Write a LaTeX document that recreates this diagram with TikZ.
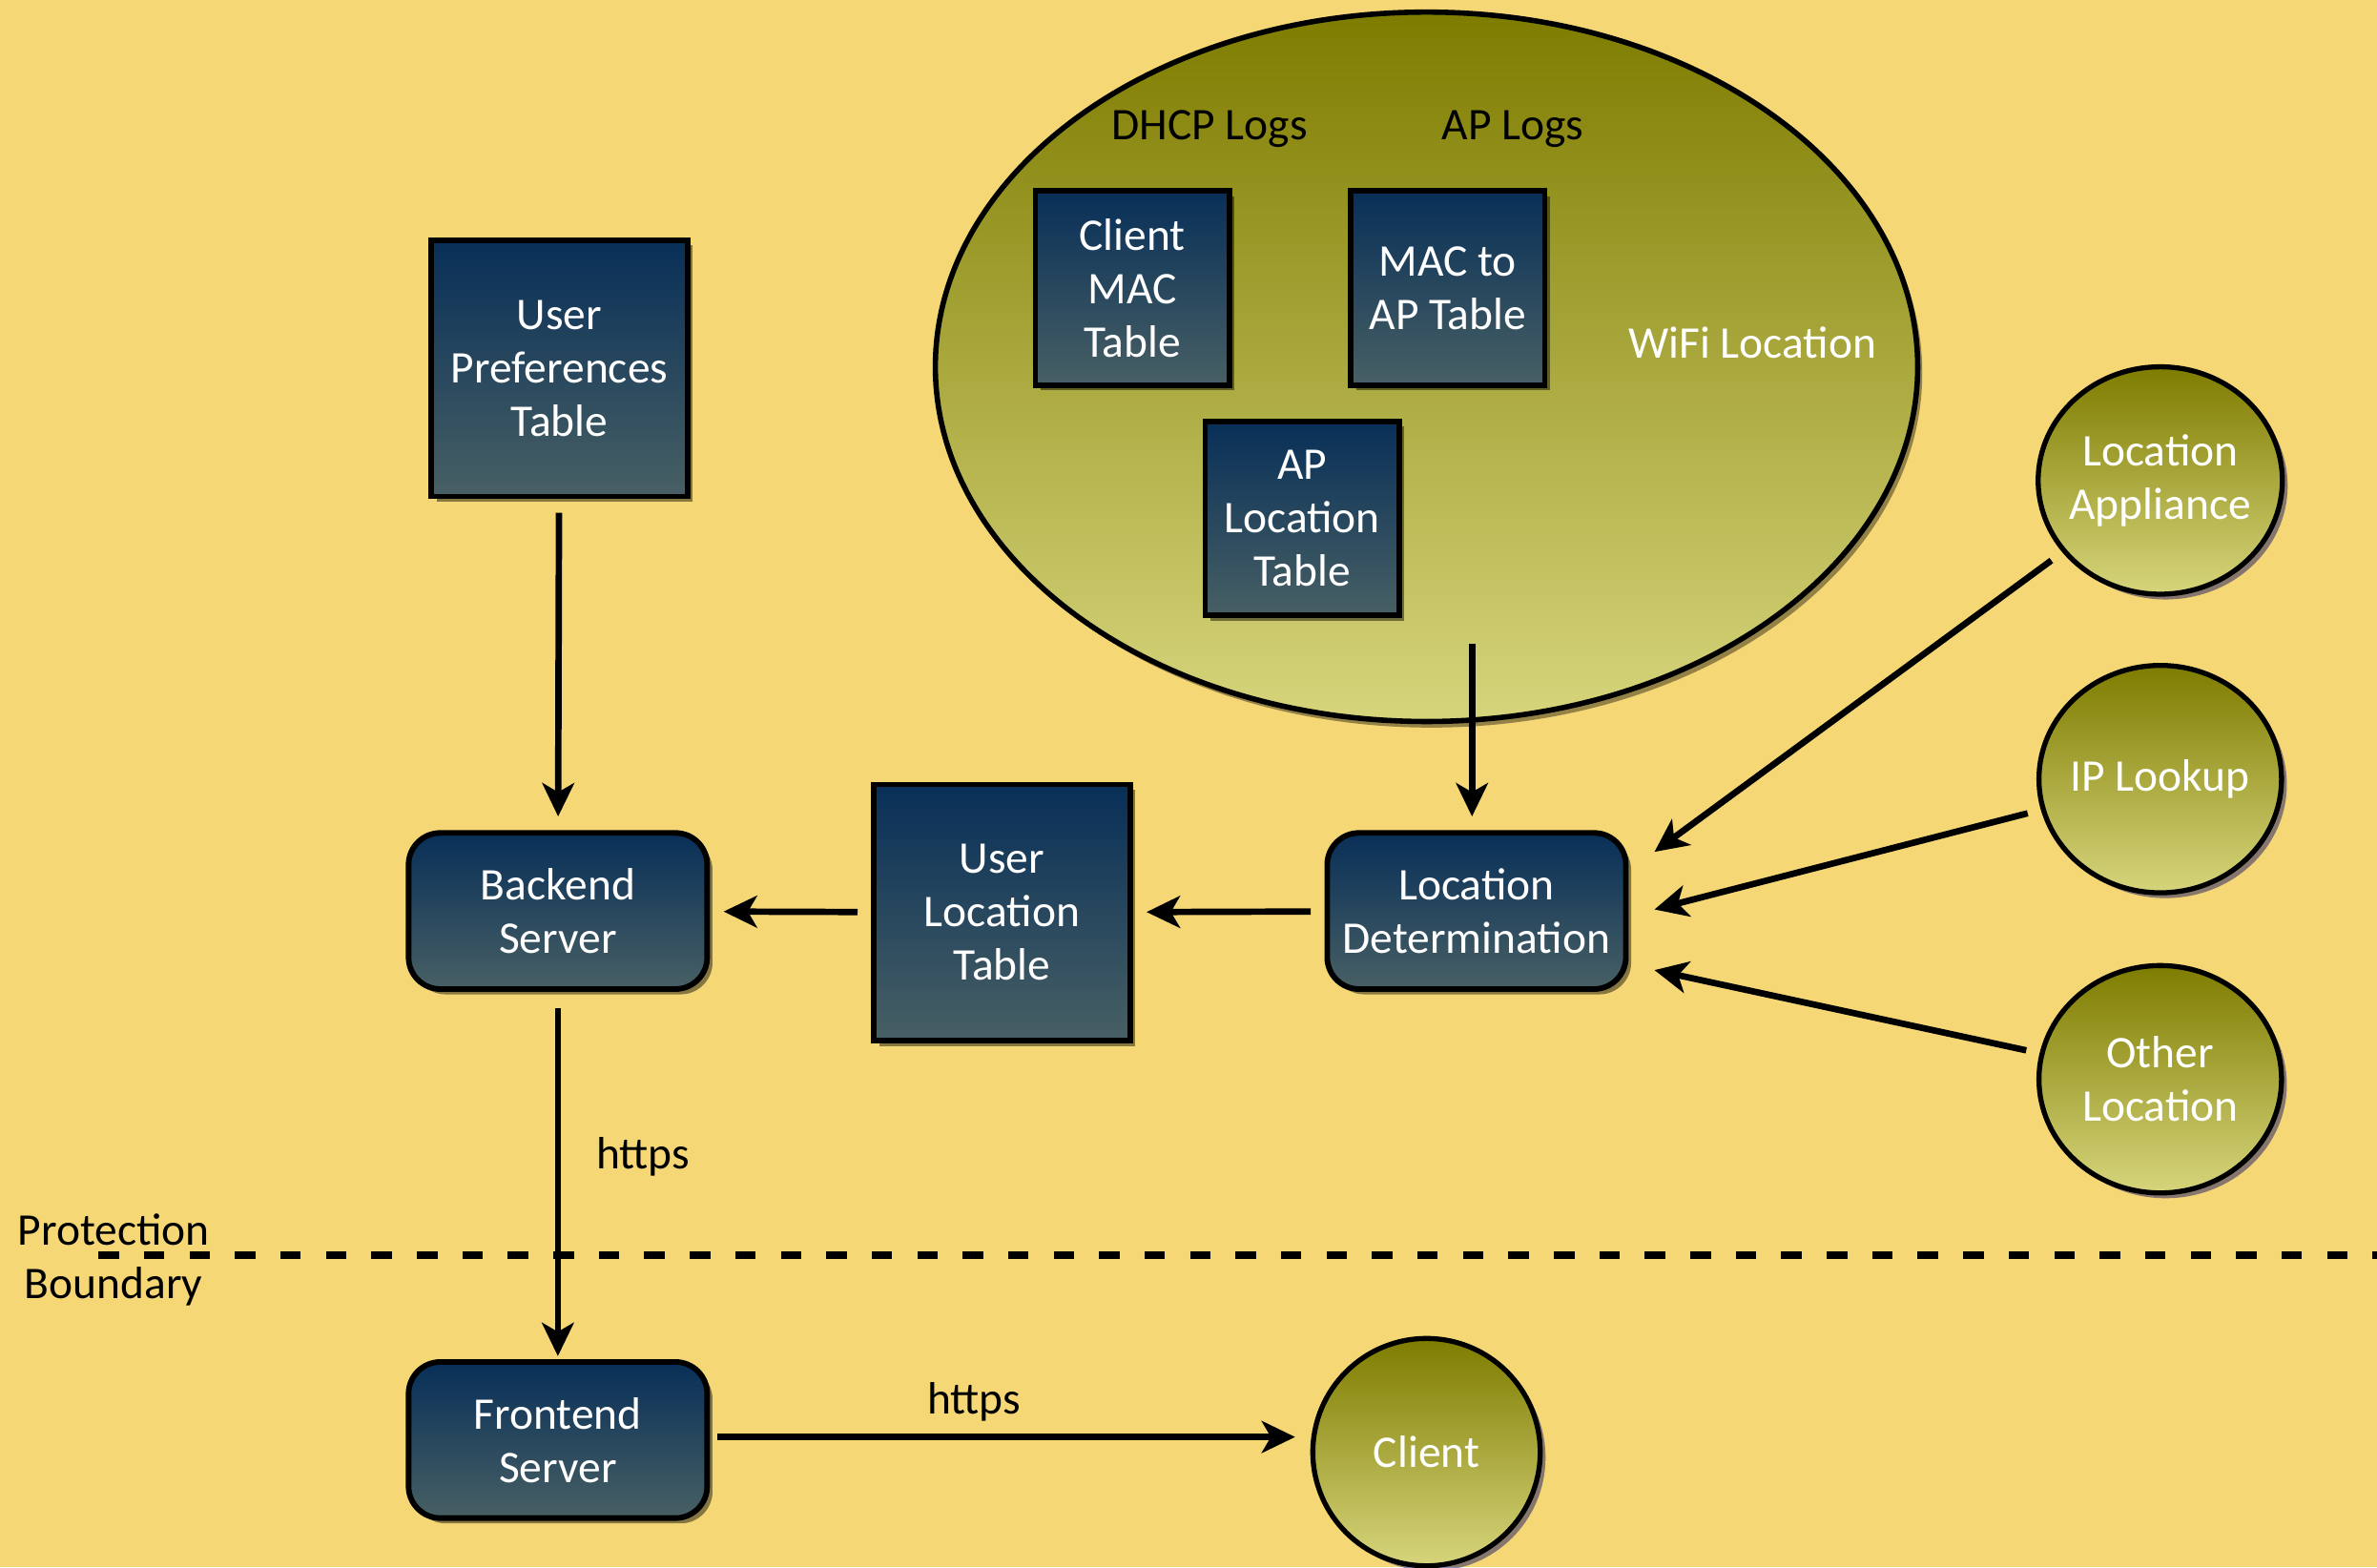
\documentclass[tikz,border=0pt]{standalone}
\usepackage{fontspec}
\setmainfont{Carlito}
\usepackage{tikz}
\usetikzlibrary{arrows.meta, positioning, shapes.geometric, shadows}

\definecolor{paper}{RGB}{245,215,118}
\definecolor{navytop}{RGB}{8,47,88}
\definecolor{navybot}{RGB}{72,96,100}
\definecolor{olivetop}{RGB}{126,124,0}
\definecolor{olivebot}{RGB}{214,213,124}

\tikzset{
  shadebox/.style={draw=black, line width=2.1pt, top color=navytop, bottom color=navybot,
    text=white, align=center, inner sep=2pt,
    drop shadow={shadow xshift=0.07cm, shadow yshift=-0.07cm, opacity=0.45, fill=black}},
  tablebox/.style={shadebox, minimum width=2.56cm, minimum height=2.56cm},
  bigtable/.style={shadebox, minimum width=3.38cm, minimum height=3.38cm},
  server/.style={shadebox, rounded corners=0.42cm, minimum width=3.94cm, minimum height=2.06cm},
  srcdisc/.style={ellipse, draw=black, line width=1.9pt, top color=olivetop, bottom color=olivebot,
    text=white, align=center, minimum width=3.2cm, minimum height=3.0cm,
    inner xsep=-0.06cm, inner ysep=0pt,
    drop shadow={shadow xshift=0.07cm, shadow yshift=-0.07cm, opacity=0.45, fill=black!60!blue}},
  flow/.style={-{Stealth[length=0.44cm, width=0.42cm, inset=0.12cm]}, line width=2.4pt,
    shorten >=0.18cm, shorten <=0.18cm},
  feed/.style={flow, shorten >=0pt},
}

\begin{document}
\begin{tikzpicture}[font=\fontsize{17}{20}\selectfont]
  \useasboundingbox (0,0) rectangle (31.36,20.68);
  \fill[paper] (0,0) rectangle (31.36,20.68);

  % wifi area
  \node[ellipse, draw=black, line width=2pt, top color=olivetop, bottom color=olivebot,
        minimum width=12.96cm, minimum height=9.36cm,
        drop shadow={shadow xshift=0.06cm, shadow yshift=-0.08cm, opacity=0.4, fill=black}]
        (wifi) at (18.82,15.84) {};
  \node (dhcp)   at (15.96,18.98) {DHCP Logs};
  \node (aplogs) at (19.96,18.98) {AP Logs};
  \node[text=white] (wifilbl) at (23.12,16.16) {WiFi Location};
  \node[tablebox] (cmac)  at (14.94,16.88) {Client\\MAC\\Table};
  \node[tablebox] (mac2ap) at (19.10,16.88) {MAC to\\AP Table};
  \node[tablebox] (aploc) at (17.18,13.84) {AP\\Location\\Table};
  \coordinate (wifiout) at (19.42,12.18);

  % main chain
  \node[bigtable] (upref)   at (7.38,15.82) {User\\Preferences\\Table};
  \node[server]   (backend) at (7.36,8.66)  {Backend\\Server};
  \node[bigtable] (uloc)    at (13.22,8.64) {User\\Location\\Table};
  \node[server]   (locdet)  at (19.48,8.66) {Location\\Determination};

  % other sources
  \node[srcdisc] (appl)  at (28.50,14.34) {Location\\Appliance};
  \node[srcdisc] (iplk)  at (28.50,10.40) {IP Lookup};
  \node[srcdisc] (other) at (28.50,6.44)  {Other\\Location};

  % outside
  \node[server] (frontend) at (7.36,1.68) {Frontend\\Server};
  \node[srcdisc, minimum width=3.0cm] (client) at (18.82,1.52) {Client};

  % boundary
  \coordinate (bdl) at (1.30,4.12);
  \coordinate (bdr) at (31.36,4.12);
  \draw[line width=2.9pt, dash pattern=on 0.27cm off 0.33cm] (bdl) -- (bdr);
  \node[align=center] (prot) at (1.50,4.06) {Protection\\Boundary};

  \draw[flow] (upref) -- (backend);
  \draw[flow] (uloc) -- (backend);
  \draw[flow] (locdet) -- (uloc);
  \draw[flow, shorten <=0pt] (wifiout) -- (wifiout |- locdet.north);
  \draw[feed] (appl)  -- ([shift={(0.34,0.78)}]locdet.east);
  \draw[feed] (iplk)  -- ([shift={(0.34,0.02)}]locdet.east);
  \draw[feed] (other) -- ([shift={(0.34,-0.78)}]locdet.east);
  \draw[flow, shorten >=0.04cm, shorten <=0.22cm] (backend) -- node[right=0.35cm, pos=0.45] (https1) {https} (frontend);
  \draw[flow, shorten <=0.1cm, shorten >=0.2cm] ([yshift=0.04cm]frontend.east) -- node[above=0.05cm, pos=0.44] (https2) {https} ([yshift=0.04cm]frontend.east -| client.west);
\end{tikzpicture}
\end{document}
